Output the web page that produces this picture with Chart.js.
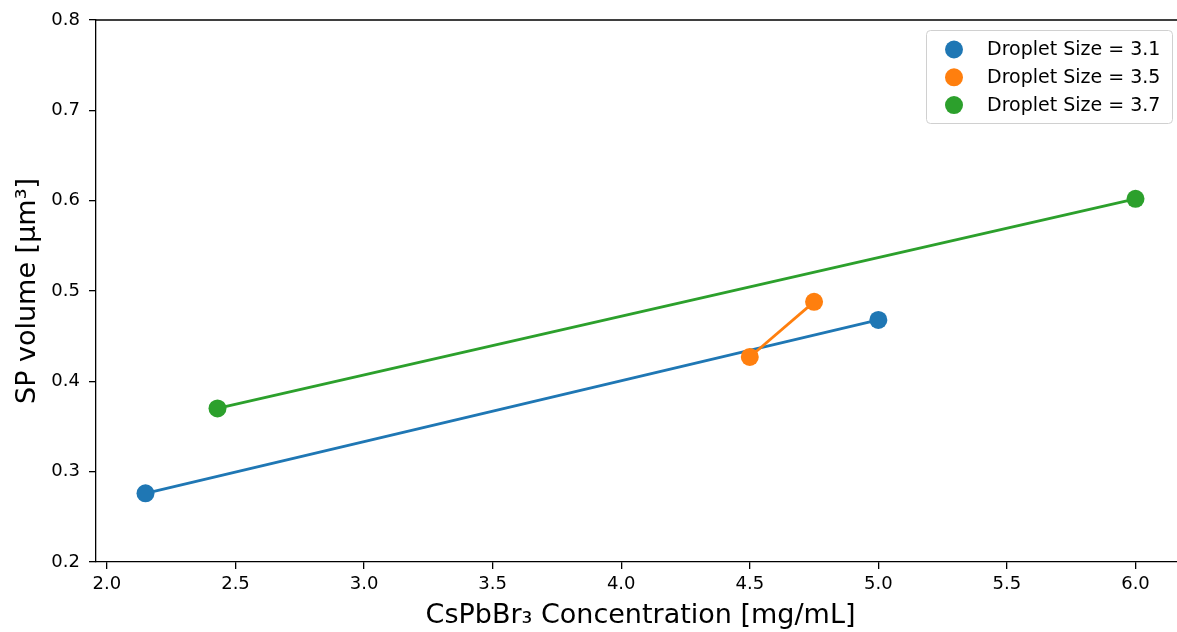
<!DOCTYPE html>
<html>
<head>
<meta charset="utf-8">
<script src="https://cdn.jsdelivr.net/npm/chart.js@4/dist/chart.umd.min.js"></script>
<style>
  html, body { margin: 0; padding: 0; background: #fff; overflow: hidden; }
  #wrap { width: 1195px; height: 632px; }
</style>
</head>
<body>
<div id="wrap"><canvas id="c" width="1195" height="632"></canvas></div>
<script>
// ---- data ----
const seriesLabels = ['Droplet Size = 3.1', 'Droplet Size = 3.5', 'Droplet Size = 3.7'];
const blueX = [2.15, 5.0];
const blueY = [0.276, 0.468];
const orangeX = [4.5, 4.75];
const orangeY = [0.427, 0.488];
const greenX = [2.43, 6.0];
const greenY = [0.370, 0.602];
const xTicks = [2.0, 2.5, 3.0, 3.5, 4.0, 4.5, 5.0, 5.5, 6.0];
const yTicks = [0.2, 0.3, 0.4, 0.5, 0.6, 0.7, 0.8];
const xRange = [1.9575, 6.1925];
const yRange = [0.2, 0.8];
const colors = ['#1f77b4', '#ff7f0e', '#2ca02c'];

const FONT = "'DejaVu Sans', sans-serif";
const pts = (xs, ys) => xs.map((x, i) => ({ x: x, y: ys[i] }));

function ds(label, xs, ys, color, order) {
  return {
    label: label,
    data: pts(xs, ys),
    showLine: true,
    borderColor: color,
    backgroundColor: color,
    borderWidth: 2.8,
    pointRadius: 9,
    pointHoverRadius: 9,
    pointBorderWidth: 0,
    pointBackgroundColor: color,
    order: order
  };
}

const framePlugin = {
  id: 'frame',
  afterDatasetsDraw(chart) {
    const { ctx, chartArea: a } = chart;
    ctx.save();
    ctx.strokeStyle = '#000';
    ctx.lineWidth = 1.3;
    ctx.beginPath();
    ctx.moveTo(a.left, a.top);
    ctx.lineTo(a.right, a.top);
    ctx.lineTo(a.right, a.bottom);
    ctx.stroke();
    ctx.restore();
  },
  afterDraw(chart) {
    const ctx = chart.ctx;
    const bx = 926, by = 30, bw = 246, bh = 93, r = 4;
    ctx.save();
    ctx.beginPath();
    ctx.roundRect(bx + 0.5, by + 0.5, bw, bh, r);
    ctx.fillStyle = 'rgba(255,255,255,0.8)';
    ctx.fill();
    ctx.strokeStyle = '#d0d0d0';
    ctx.lineWidth = 1;
    ctx.stroke();
    ctx.font = '19px ' + FONT;
    ctx.textBaseline = 'middle';
    ctx.textAlign = 'left';
    chart.data.datasets.forEach((d, i) => {
      const cy = 49.5 + i * 27.8;
      ctx.beginPath();
      ctx.arc(954, cy, 9, 0, Math.PI * 2);
      ctx.fillStyle = d.backgroundColor;
      ctx.fill();
      ctx.fillStyle = '#000';
      ctx.fillText(d.label, 987, cy + 1);
    });
    ctx.restore();
  }
};

new Chart(document.getElementById('c'), {
  type: 'scatter',
  data: {
    datasets: [
      ds(seriesLabels[0], blueX, blueY, colors[0], 2),
      ds(seriesLabels[1], orangeX, orangeY, colors[1], 1),
      ds(seriesLabels[2], greenX, greenY, colors[2], 0)
    ]
  },
  options: {
    responsive: false,
    animation: false,
    devicePixelRatio: 1,
    layout: { padding: { top: 20, right: 10, left: 0, bottom: 0 } },
    plugins: { legend: { display: false }, tooltip: { enabled: false } },
    scales: {
      x: {
        type: 'linear',
        min: xRange[0],
        max: xRange[1],
        afterBuildTicks: s => { s.ticks = xTicks.map(v => ({ value: v })); },
        afterFit: s => { s.height = 70; },
        grid: { display: true, drawOnChartArea: false, drawTicks: true, tickLength: 7, color: '#000', lineWidth: 1.3 },
        border: { display: true, color: '#000', width: 1.3 },
        ticks: { color: '#000', padding: 5, font: { family: FONT, size: 18 }, callback: v => v.toFixed(1), maxRotation: 0, autoSkip: false },
        title: { display: true, text: 'CsPbBr₃ Concentration [mg/mL]', color: '#000', font: { family: FONT, size: 27 }, padding: { top: 0, bottom: 0 } }
      },
      y: {
        type: 'linear',
        min: yRange[0],
        max: yRange[1],
        afterBuildTicks: s => { s.ticks = yTicks.map(v => ({ value: v })); },
        afterFit: s => { s.width = 96; },
        grid: { display: true, drawOnChartArea: false, drawTicks: true, tickLength: 7, color: '#000', lineWidth: 1.3 },
        border: { display: true, color: '#000', width: 1.3 },
        ticks: { color: '#000', padding: 9, font: { family: FONT, size: 18 }, callback: v => v.toFixed(1), autoSkip: false },
        title: { display: true, text: 'SP volume [µm³]', color: '#000', font: { family: FONT, size: 27 }, padding: { top: 12, bottom: 0 } }
      }
    }
  },
  plugins: [framePlugin]
});
</script>
</body>
</html>
